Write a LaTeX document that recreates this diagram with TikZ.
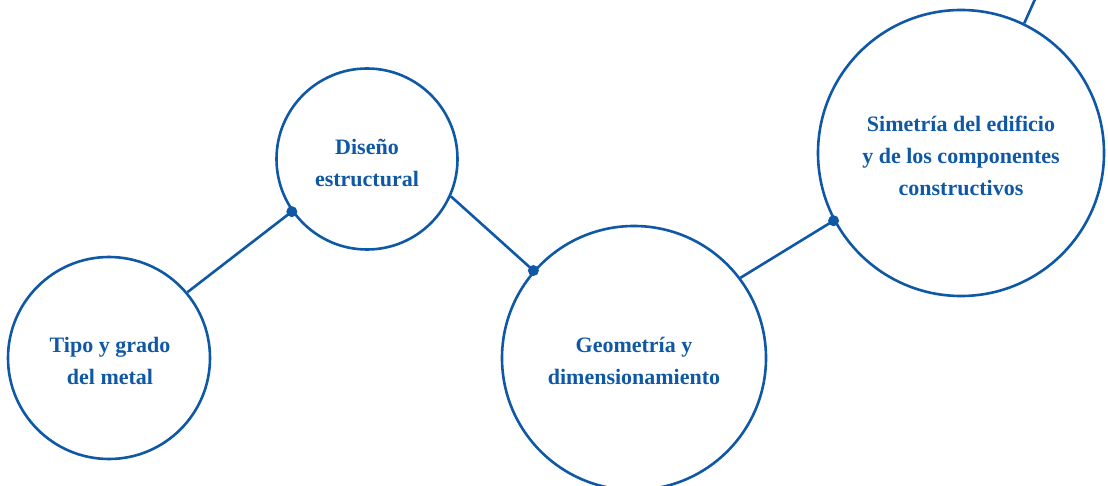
\documentclass[tikz,border=0pt]{standalone}
\usepackage{fontspec}
\setmainfont{Liberation Serif}
\definecolor{mainblue}{RGB}{14,88,166}
\begin{document}
\begin{tikzpicture}[x=1pt,y=-1pt,
  bubble/.style={circle,draw=mainblue,line width=2.6pt,inner sep=0pt,align=center,
    text=mainblue,font=\fontsize{22}{32}\selectfont\bfseries},
  label/.style={text=mainblue,align=center,font=\fontsize{22}{32}\selectfont\bfseries},
  link/.style={draw=mainblue,line width=2.6pt},
  joint/.style={fill=mainblue}]
\clip (0,0) rectangle (1108,486);
\node[bubble,minimum size=202pt] (c1) at (109,358) {};
\node[bubble,minimum size=181pt] (c2) at (367,159) {};
\node[bubble,minimum size=264pt] (c3) at (634,358) {};
\node[bubble,minimum size=286pt] (c4) at (961,153) {};
\node[label] (t1) at (110,361) {Tipo y grado\\del metal};
\node[label] (t2) at (367,163) {Diseño\\estructural};
\node[label] (t3) at (634,361) {Geometría y\\dimensionamiento};
\node[label] (t4) at (961,156) {Simetría del edificio\\y de los componentes\\constructivos};
\coordinate (top) at (1036,-3);
\draw[link] (c1.40.6) -- (c2.215.1);
\draw[link] (c2.-24.9) -- (c3.139.9);
\draw[link] (c3.37) -- (c4.208.9);
\draw[link] (c4.64) -- (top);
\fill[joint] (c2.215.1) circle (5.5);
\fill[joint] (c3.139.9) circle (5.5);
\fill[joint] (c4.208.9) circle (5.5);
\end{tikzpicture}
\end{document}
